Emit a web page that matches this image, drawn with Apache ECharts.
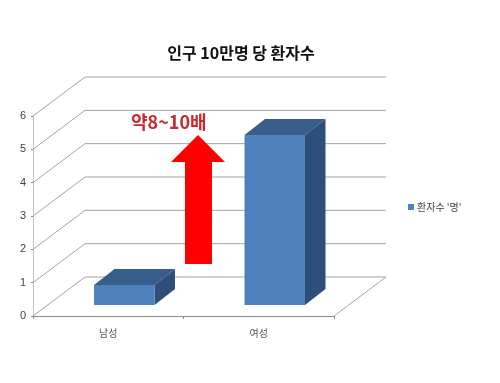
<!DOCTYPE html>
<html><head><meta charset="utf-8">
<style>html,body{margin:0;padding:0;background:#fff}#c{width:500px;height:383px}</style>
<script src="https://cdn.jsdelivr.net/npm/echarts@6/dist/echarts.min.js"></script>
</head><body><div id="c"></div>
<script>
const categories = ['남성', '여성'];
const patients = [0.6, 5.1];
const yTicks = [0, 1, 2, 3, 4, 5, 6];
const seriesName = "환자수 '명'";
const titleText = '인구 10만명 당 환자수';
const noteText = '약8~10배';
const FONT = '"Noto Sans CJK KR","Liberation Sans",sans-serif';

const chart = echarts.init(document.getElementById('c'), null, {renderer: 'canvas'});
const wallDx = 52, wallDy = -39;      // depth of the 3D box
const barDx = 20.5, barDy = -16;      // depth of a bar
const barOffX = 16, barOffY = -11;    // bar placed mid-depth on the floor
const gridStyle = {stroke: '#a3a3a3', lineWidth: 1};

function wallItem(params, api) {
  const v = api.value(0);
  const rect = params.coordSys;
  const y = api.coord([0, v])[1];
  const x0 = rect.x, x1 = rect.x + rect.width;
  const kids = [];
  kids.push({type: 'line', shape: {x1: x0, y1: y, x2: x0 + wallDx, y2: y + wallDy}, style: gridStyle});
  kids.push({type: 'line', shape: {x1: x0 + wallDx, y1: y + wallDy, x2: x1 + wallDx, y2: y + wallDy}, style: gridStyle});
  if (v === 0) {
    kids.push({type: 'line', shape: {x1: x1, y1: y, x2: x1 + wallDx, y2: y + wallDy}, style: gridStyle});
  }
  return {type: 'group', children: kids};
}

function barItem(params, api) {
  const c = api.coord([api.value(0), api.value(1)]);
  const base = api.coord([api.value(0), 0]);
  const w = 60.5;
  const l = c[0] - w / 2 + barOffX, r = l + w;
  const t = c[1] + barOffY, b = base[1] + barOffY;
  return {type: 'group', children: [
    {type: 'polygon', shape: {points: [[l, t], [r, t], [r + barDx, t + barDy], [l + barDx, t + barDy]]}, style: {fill: '#385d8a'}},
    {type: 'polygon', shape: {points: [[r, t], [r + barDx, t + barDy], [r + barDx, b + barDy], [r, b]]}, style: {fill: '#2f4f7a'}},
    {type: 'rect', shape: {x: l, y: t, width: w, height: b - t}, style: {fill: '#4f81bd'}}
  ]};
}

chart.setOption({
  animation: false,
  backgroundColor: '#fff',
  title: {text: titleText, left: 236, top: 40, textAlign: 'center',
    textStyle: {fontFamily: FONT, fontSize: 16, fontWeight: 'bold', color: '#111'}},
  legend: {data: [{name: seriesName, icon: 'rect'}], left: 403, top: 197, itemWidth: 6, itemHeight: 6, itemGap: 3,
    selectedMode: false, textStyle: {fontFamily: FONT, fontSize: 10, color: '#444', padding: [0, 0, 0, -2]}},
  grid: {left: 33, top: 116, width: 301, height: 200},
  xAxis: {type: 'category', data: categories, boundaryGap: true,
    axisLine: {lineStyle: {color: '#8c8c8c', width: 1}},
    axisTick: {show: true, length: 3, alignWithLabel: false, lineStyle: {color: '#8c8c8c'}},
    axisLabel: {fontFamily: FONT, fontSize: 10, color: '#555', margin: 12},
    splitLine: {show: false}},
  yAxis: {type: 'value', min: 0, max: 6, interval: 1,
    axisLine: {show: true, lineStyle: {color: '#c4c4c4', width: 1}},
    axisTick: {show: true, length: 2, lineStyle: {color: '#8c8c8c'}},
    axisLabel: {fontFamily: '"Liberation Sans",sans-serif', fontSize: 11, color: '#444', margin: 7},
    splitLine: {show: false}},
  series: [
    {type: 'custom', name: 'walls', silent: true, renderItem: wallItem, coordinateSystem: 'cartesian2d',
     encode: {y: 0}, data: yTicks.map(v => [v]), clip: false, z: 1},
    {type: 'custom', name: seriesName, renderItem: barItem, coordinateSystem: 'cartesian2d',
     encode: {x: 0, y: 1}, data: patients.map((v, i) => [i, v]), clip: false, z: 2,
     itemStyle: {color: '#4f81bd'}}
  ],
  graphic: [
    {type: 'polygon', z: 10, shape: {points: [[185, 264], [212, 264], [212, 162], [225, 162], [198, 135], [171, 162], [185, 162]]},
     style: {fill: '#ff0000'}},
    {type: 'text', z: 10, left: 131, top: 113, style: {text: noteText, fontFamily: FONT, fontSize: 18, fontWeight: 'bold', fill: '#c9282d'}}
  ]
});
</script></body></html>
